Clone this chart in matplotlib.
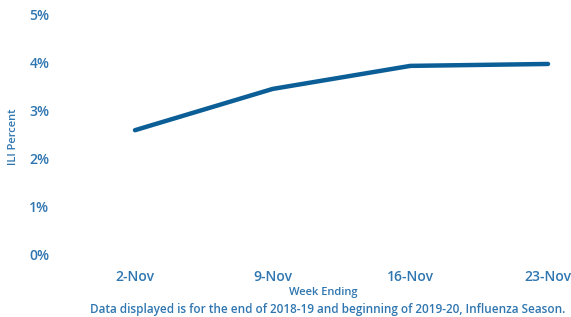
import matplotlib
matplotlib.use("Agg")
import matplotlib.pyplot as plt
from matplotlib.ticker import FuncFormatter

weeks = ["2-Nov", "9-Nov", "16-Nov", "23-Nov"]
ili_percent = [2.60, 3.46, 3.94, 3.98]
y_ticks = [0, 1, 2, 3, 4, 5]

line_color = "#0b5e96"
text_color = "#2f76b0"

plt.rcParams['font.family'] = ['Open Sans', 'DejaVu Sans']

W, H = 571, 317
fig = plt.figure(figsize=(W / 100, H / 100), dpi=100)
ax_left, ax_right = 66, 571
ax_top, ax_bottom = 15, 255
ax = fig.add_axes([ax_left / W, (H - ax_bottom) / H, (ax_right - ax_left) / W, (ax_bottom - ax_top) / H])

x = list(range(len(weeks)))
ax.plot(x, ili_percent, color=line_color, linewidth=3.2, solid_capstyle='round', solid_joinstyle='round', clip_on=False)

spacing = (548 - 135) / 3
ax.set_xlim(-(135 - ax_left) / spacing, 3 + (ax_right - 548) / spacing)
ax.set_ylim(0, 5)
ax.set_xticks(x)
ax.set_xticklabels(weeks)
ax.set_yticks(y_ticks)
ax.yaxis.set_major_formatter(FuncFormatter(lambda v, p: f"{int(v)}%"))

for s in ax.spines.values():
    s.set_visible(False)
ax.tick_params(axis='both', length=0, colors=text_color, labelsize=10)
ax.tick_params(axis='y', pad=12)
ax.tick_params(axis='x', pad=11)
for lab in ax.get_xticklabels() + ax.get_yticklabels():
    lab.set_fontweight('semibold')
    lab.set_color(text_color)

small = dict(fontsize=8, color=text_color, fontweight='semibold')
fig.text(14 / W, 1 - 137 / H, "ILI Percent", rotation=90, ha='center', va='center', **small)
fig.text(323 / W, 1 - 293 / H, "Week Ending", ha='center', va='center', **small)
fig.text(328 / W, 1 - 310 / H, "Data displayed is for the end of 2018-19 and beginning of 2019-20, Influenza Season.",
         ha='center', va='center', fontsize=8.5, color=text_color, fontweight='semibold')

fig.savefig("out.png", dpi=100)
